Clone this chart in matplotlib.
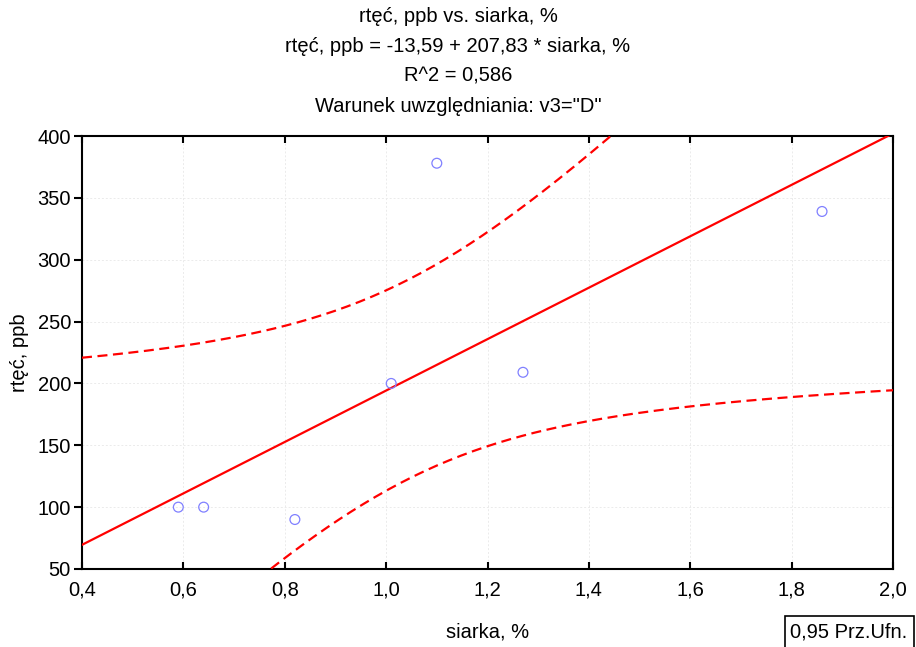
import numpy as np
import matplotlib
matplotlib.use("Agg")
import matplotlib.pyplot as plt
from matplotlib.ticker import FixedLocator
from matplotlib.patches import Rectangle

plt.rcParams['font.family'] = ['Liberation Sans', 'DejaVu Sans']

# data
siarka = [0.59, 0.64, 0.82, 1.01, 1.10, 1.27, 1.86]
rtec = [100, 100, 90, 200, 378, 209, 339]
intercept = -13.59
slope = 207.83
t_crit = 2.571  # t(0.975, df=5)

xticks = [0.4, 0.6, 0.8, 1.0, 1.2, 1.4, 1.6, 1.8, 2.0]
yticks = [50, 100, 150, 200, 250, 300, 350, 400]
titles = ['rtęć, ppb vs. siarka, %',
          'rtęć, ppb = -13,59 + 207,83 * siarka, %',
          'R^2 = 0,586',
          'Warunek uwzględniania: v3="D"']

x = np.array(siarka)
y = np.array(rtec)
n = len(x)
resid = y - (intercept + slope * x)
s = np.sqrt(np.sum(resid ** 2) / (n - 2))
sxx = np.sum((x - x.mean()) ** 2)
xs = np.linspace(0.4, 2.0, 200)
yh = intercept + slope * xs
half = t_crit * s * np.sqrt(1.0 / n + (xs - x.mean()) ** 2 / sxx)

fs = 14.5
fig = plt.figure(figsize=(9.16, 6.47), dpi=100)
ax = fig.add_axes([82 / 916, 1 - 569 / 647, (893 - 82) / 916, (569 - 136) / 647])

ax.plot(xs, yh, color='#ff0000', lw=1.6, zorder=3)
ax.plot(xs, yh + half, color='#ff0000', lw=1.6, ls=(0, (4.5, 2.5)), zorder=3)
ax.plot(xs, yh - half, color='#ff0000', lw=1.6, ls=(0, (4.5, 2.5)), zorder=3)
ax.scatter(x, y, s=50, facecolors='none', edgecolors='#8080ff', linewidths=0.9, zorder=4)

ax.set_xlim(0.4, 2.0)
ax.set_ylim(50, 400)
ax.xaxis.set_major_locator(FixedLocator(xticks))
ax.yaxis.set_major_locator(FixedLocator(yticks))
ax.set_xticklabels([f'{v:.1f}'.replace('.', ',') for v in xticks])
ax.set_yticklabels([str(v) for v in yticks])
ax.grid(True, color='#ebebeb', ls=(0, (2, 2)), lw=0.7)
for sp in ax.spines.values():
    sp.set_linewidth(1.5)
ax.tick_params(axis='x', direction='in', top=True, length=5, width=1.5, labelsize=fs, pad=8)
ax.tick_params(axis='y', direction='out', length=6, width=1.5, labelsize=fs, pad=2)

ax.set_xlabel('siarka, %', fontsize=fs, labelpad=17)
ax.set_ylabel('rtęć, ppb', fontsize=fs, labelpad=6)

for i, t in enumerate(titles):
    fig.text(0.5, 1 - (16 + 30 * i) / 647, t, ha='center', va='center', fontsize=fs)

fig.patches.append(Rectangle((785 / 916, 1 - 650 / 647), (914 - 785) / 916, (650 - 616) / 647,
                             transform=fig.transFigure, fc='white', ec='black', lw=1.2))
fig.text(849 / 916, 1 - 632 / 647, '0,95 Prz.Ufn.', ha='center', va='center', fontsize=fs)

fig.savefig('out.png', dpi=100)
